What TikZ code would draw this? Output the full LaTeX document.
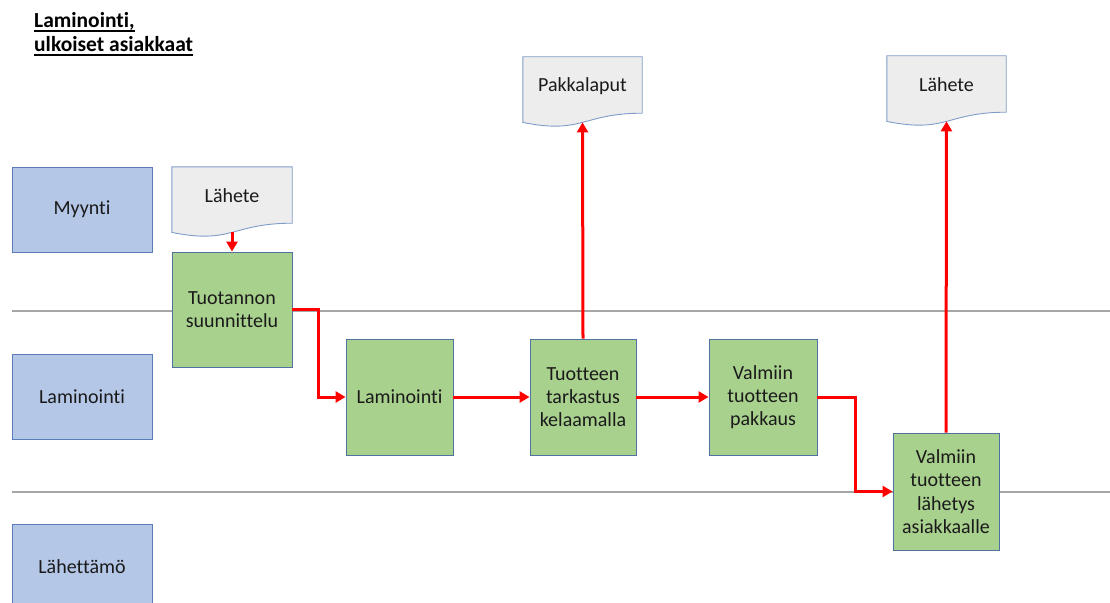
\documentclass[tikz,border=0pt]{standalone}
\usepackage{fontspec}
\setmainfont{Carlito}[Ligatures={NoCommon}]
\usetikzlibrary{arrows.meta,calc}
\pgfdeclarelayer{background}
\pgfsetlayers{background,main}

\definecolor{lanefill}{HTML}{B4C7E7}
\definecolor{laneedge}{HTML}{5A7DB8}
\definecolor{stepfill}{HTML}{A9D18E}
\definecolor{stepedge}{HTML}{4F72A0}
\definecolor{docfill}{HTML}{EDEDED}
\definecolor{docedge}{HTML}{7F9CCB}
\definecolor{flow}{HTML}{FF0000}
\definecolor{divider}{HTML}{A6A6A6}
\definecolor{ink}{HTML}{1A1A1A}

\tikzset{
  boxfont/.style={font=\fontsize{20}{23.3}\selectfont, text=ink},
  lane/.style={boxfont, draw=laneedge, fill=lanefill, line width=1pt,
    minimum width=140pt, minimum height=85pt, inner sep=0pt},
  stepbox/.style={boxfont, draw=stepedge, fill=stepfill, line width=0.9pt,
    inner sep=0pt, align=center},
  docnode/.style={boxfont, minimum width=120pt, minimum height=56pt, inner sep=0pt,
    text height=15pt, text depth=1pt},
  docshape/.style={draw=docedge, fill=docfill, line width=0.9pt},
  flowarrow/.style={draw=flow, line width=3pt,
    -{Triangle[length=10pt,width=11pt]}},
  titlefont/.style={font=\fontsize{21.5}{23.4}\selectfont\bfseries, text=black,
    inner sep=0pt, anchor=base west},
  laneline/.style={draw=divider, line width=2pt},
}

% document outline with a wavy lower edge, drawn behind the named node
\newcommand\docoutline[1]{%
  \begin{pgfonlayer}{background}
    \path[docshape] (#1.north west) -- (#1.north east) -- (#1.south east)
      .. controls (#1.south) and ($(#1.south)+(0,-21.4pt)$)
      .. ($(#1.south west)+(0,-9.2pt)$) -- cycle;
  \end{pgfonlayer}
  \coordinate (#1-b) at ($(#1.south)+(0,-9.2pt)$);%
}

\begin{document}
\begin{tikzpicture}[x=1pt,y=-1pt]
  \useasboundingbox (0,0) rectangle (1110,602);

  % title
  \node[titlefont] (t1) at (34,28) {Laminointi,};
  \node[titlefont] (t2) at (34,52) {ulkoiset asiakkaat};
  \draw[line width=1.6pt] ($(t1.base west)+(0,-2.8pt)$) -- ($(t1.base east)+(0,-2.8pt)$);
  \draw[line width=1.6pt] ($(t2.base west)+(0,-2.8pt)$) -- ($(t2.base east)+(0,-2.8pt)$);

  % swimlane dividers
  \coordinate (d1a) at (12,311);  \coordinate (d1b) at (1110,311);
  \coordinate (d2a) at (12,492);  \coordinate (d2b) at (1110,492);
  \begin{pgfonlayer}{background}
    \draw[laneline] (d1a) -- (d1b);
    \draw[laneline] (d2a) -- (d2b);
  \end{pgfonlayer}

  % lane labels
  \node[lane] (myynti) at (82,209.5) {Myynti};
  \node[lane] (lamlane) at (82,396.5) {Laminointi};
  \node[lane] (lahlane) at (82,566.5) {Lähettämö};

  % documents
  \node[docnode] (doc1) at (232,195) {Lähete};
  \docoutline{doc1}
  \node[docnode, minimum width=119pt] (doc2) at (582.5,85) {Pakkalaput};
  \docoutline{doc2}
  \node[docnode, minimum width=119pt] (doc3) at (946.5,84) {Lähete};
  \docoutline{doc3}

  % process steps
  \node[stepbox, minimum width=120pt, minimum height=115pt] (suun) at (232,309.5)
    {Tuotannon\\suunnittelu};
  \node[stepbox, minimum width=107pt, minimum height=116pt] (lam) at (399.5,397)
    {Laminointi};
  \node[stepbox, minimum width=106pt, minimum height=116pt] (tark) at (583,397)
    {Tuotteen\\tarkastus\\kelaamalla};
  \node[stepbox, minimum width=108pt, minimum height=116pt] (pakk) at (763,397)
    {Valmiin\\tuotteen\\pakkaus};
  \node[stepbox, minimum width=106pt, minimum height=117pt] (lah) at (946,491.5)
    {Valmiin\\tuotteen\\lähetys\\asiakkaalle};

  % flow
  \draw[flowarrow] (doc1-b) -- (suun.north);
  \draw[flowarrow] (suun.east) -- ++(26,0) |- (lam.west);
  \draw[flowarrow] (lam.east) -- (tark.west);
  \draw[flowarrow] (tark.north) -- (doc2-b);
  \draw[flowarrow] (tark.east) -- (pakk.west);
  \draw[flowarrow] (pakk.east) -- ++(38,0) |- (lah.west);
  \draw[flowarrow] (lah.north) -- (doc3-b);
\end{tikzpicture}
\end{document}
